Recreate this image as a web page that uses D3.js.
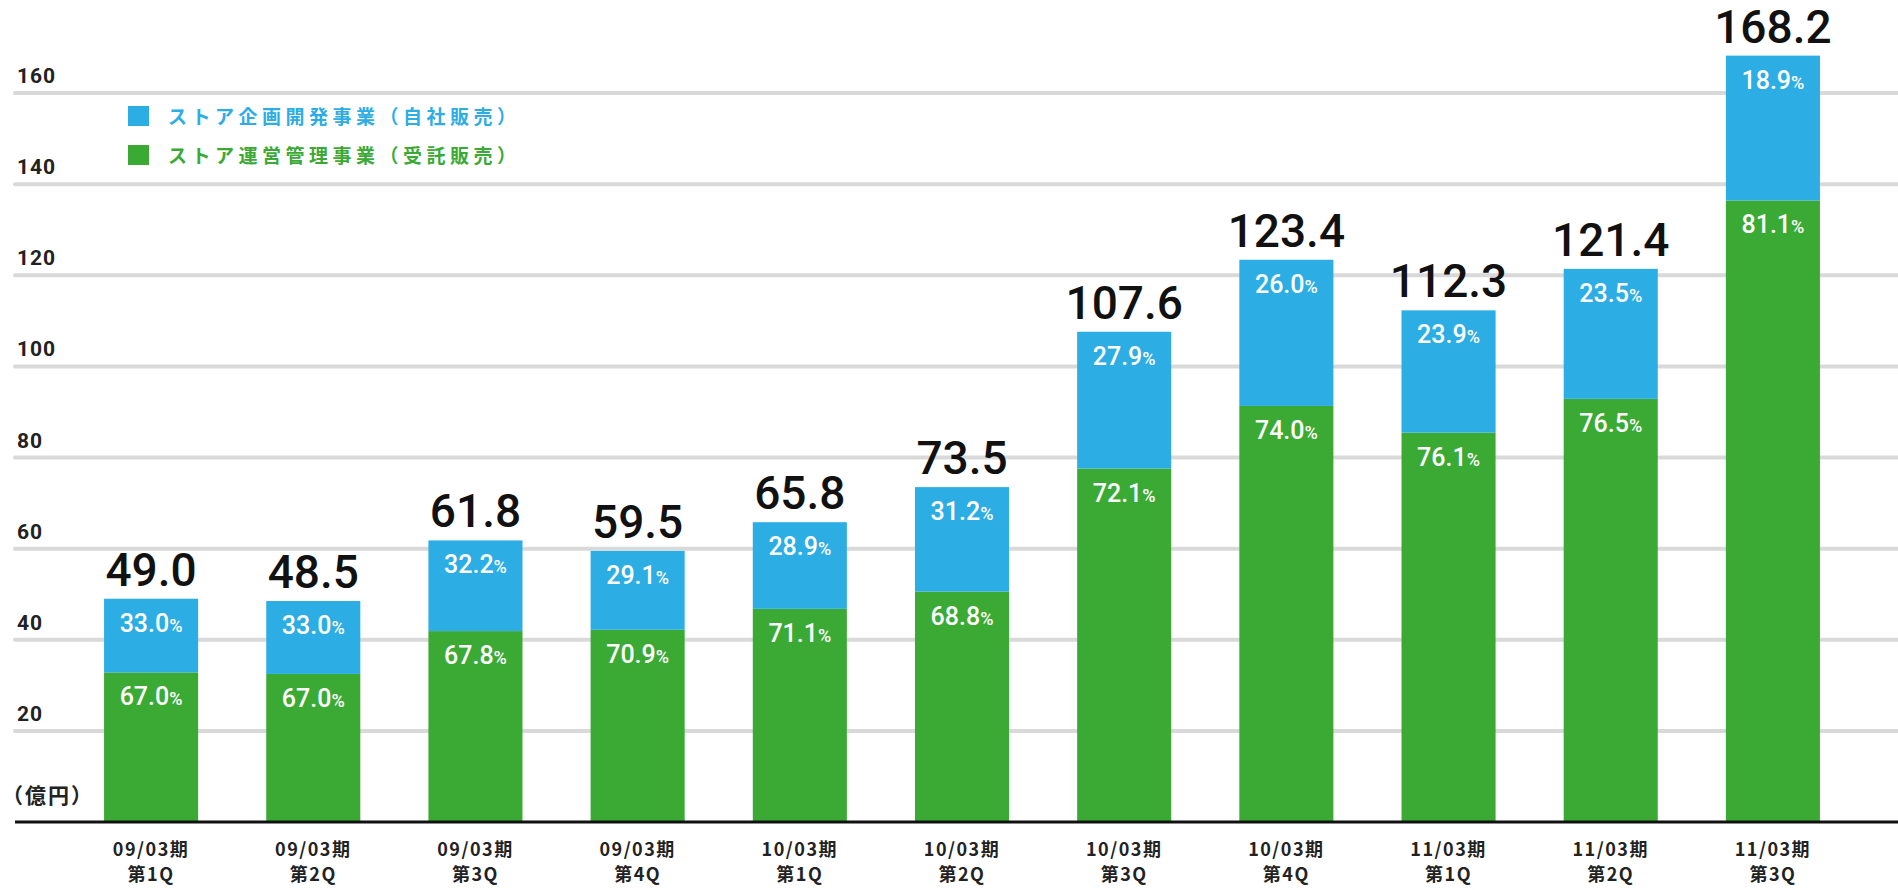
<!DOCTYPE html>
<html lang="ja">
<head>
<meta charset="utf-8">
<title>売上高推移</title>
<script src="https://cdn.jsdelivr.net/npm/d3@7"></script>
<style>
  body { margin: 0; background: #fff; }
  svg { display: block; }
</style>
</head>
<body>
<svg id="diagram" width="1898" height="890"></svg>
<script>
// データ
var periods = ["09/03期", "09/03期", "09/03期", "09/03期", "10/03期", "10/03期", "10/03期", "10/03期", "11/03期", "11/03期", "11/03期"];
var quarters = ["第1Q", "第2Q", "第3Q", "第4Q", "第1Q", "第2Q", "第3Q", "第4Q", "第1Q", "第2Q", "第3Q"];
var totals = [49.0, 48.5, 61.8, 59.5, 65.8, 73.5, 107.6, 123.4, 112.3, 121.4, 168.2];
var bluePct = [33.0, 33.0, 32.2, 29.1, 28.9, 31.2, 27.9, 26.0, 23.9, 23.5, 18.9];
var greenPct = [67.0, 67.0, 67.8, 70.9, 71.1, 68.8, 72.1, 74.0, 76.1, 76.5, 81.1];
var yTicks = [20, 40, 60, 80, 100, 120, 140, 160];
var seriesNames = ["ストア企画開発事業（自社販売）", "ストア運営管理事業（受託販売）"];

var blue = "#2cade4", green = "#3aaa35";
var jp = "'Noto Sans CJK JP', sans-serif";

var svg = d3.select("#diagram");

var rows = totals.map(function (t, i) {
    var g = t * greenPct[i] / 100;
    return { i: i, total: t, green: g, blue: t - g, bp: bluePct[i], gp: greenPct[i] };
});

var xScale = d3.scaleBand().domain(d3.range(totals.length))
    .range([70, 1854]).paddingInner(0.42).paddingOuter(0.21);
var yScale = d3.scaleLinear().domain([0, 160]).range([822, 93]);

// グリッド
var grid = svg.append("g");
grid.selectAll("line").data(yTicks).enter().append("line")
    .attr("x1", 15).attr("x2", 1898)
    .attr("y1", d => yScale(d)).attr("y2", d => yScale(d))
    .attr("stroke", "#d9d9d9").attr("stroke-width", 4).attr("stroke-linecap", "round");
grid.selectAll("text").data(yTicks).enter().append("text")
    .attr("x", 17).attr("y", d => yScale(d) - 10)
    .attr("font-family", "Roboto, sans-serif").attr("font-weight", 700)
    .attr("font-size", 21).attr("letter-spacing", 1).attr("fill", "#222")
    .text(d => d);

svg.append("text")
    .attr("x", 2).attr("y", 803)
    .attr("font-family", jp).attr("font-weight", 700)
    .attr("font-size", 21).attr("letter-spacing", 2).attr("fill", "#222")
    .text("（億円）");

// 凡例
var legend = svg.append("g");
[blue, green].forEach(function (c, i) {
    legend.append("rect")
        .attr("x", 128).attr("y", 106 + i * 39)
        .attr("width", 21).attr("height", 20).attr("fill", c);
    legend.append("text")
        .attr("x", 168).attr("y", 124 + i * 39)
        .attr("font-family", jp).attr("font-weight", 700)
        .attr("font-size", 19).attr("letter-spacing", 4.5).attr("fill", c)
        .text(seriesNames[i]);
});

// 棒
var bars = svg.append("g").selectAll("g").data(rows).enter().append("g");

bars.append("rect")
    .attr("x", d => xScale(d.i)).attr("width", xScale.bandwidth())
    .attr("y", d => yScale(d.green))
    .attr("height", d => yScale(0) - yScale(d.green))
    .attr("fill", green);

bars.append("rect")
    .attr("x", d => xScale(d.i)).attr("width", xScale.bandwidth())
    .attr("y", d => yScale(d.total))
    .attr("height", d => yScale(d.green) - yScale(d.total))
    .attr("fill", blue);

function pctLabel(sel, key, val) {
    var t = sel.append("text")
        .attr("x", d => xScale(d.i) + xScale.bandwidth() / 2)
        .attr("y", d => yScale(d[key]) + 33)
        .attr("text-anchor", "middle")
        .attr("font-family", "Roboto, sans-serif").attr("font-weight", 500)
        .attr("fill", "#fff").attr("font-size", 25);
    t.append("tspan").text(d => d3.format(".1f")(d[val]));
    t.append("tspan").attr("font-size", 18).text("%");
}
pctLabel(bars, "total", "bp");
pctLabel(bars, "green", "gp");

bars.append("text")
    .attr("x", d => xScale(d.i) + xScale.bandwidth() / 2)
    .attr("y", d => yScale(d.total) - 13)
    .attr("text-anchor", "middle")
    .attr("font-family", "Roboto, sans-serif").attr("font-weight", 500)
    .attr("font-size", 46).attr("fill", "#111")
    .text(d => d3.format(".1f")(d.total));

// 基準線
svg.append("line")
    .attr("x1", 15).attr("x2", 1898)
    .attr("y1", yScale(0)).attr("y2", yScale(0))
    .attr("stroke", "#111").attr("stroke-width", 3);

// X軸ラベル
var xl = svg.append("g").selectAll("text").data(rows).enter().append("text")
    .attr("text-anchor", "middle")
    .attr("font-family", jp).attr("font-weight", 700)
    .attr("font-size", 18).attr("letter-spacing", 1.5).attr("fill", "#222");
xl.append("tspan")
    .attr("x", d => xScale(d.i) + xScale.bandwidth() / 2).attr("y", 856)
    .text(d => periods[d.i]);
xl.append("tspan")
    .attr("x", d => xScale(d.i) + xScale.bandwidth() / 2).attr("y", 881)
    .text(d => quarters[d.i]);
</script>
</body>
</html>
